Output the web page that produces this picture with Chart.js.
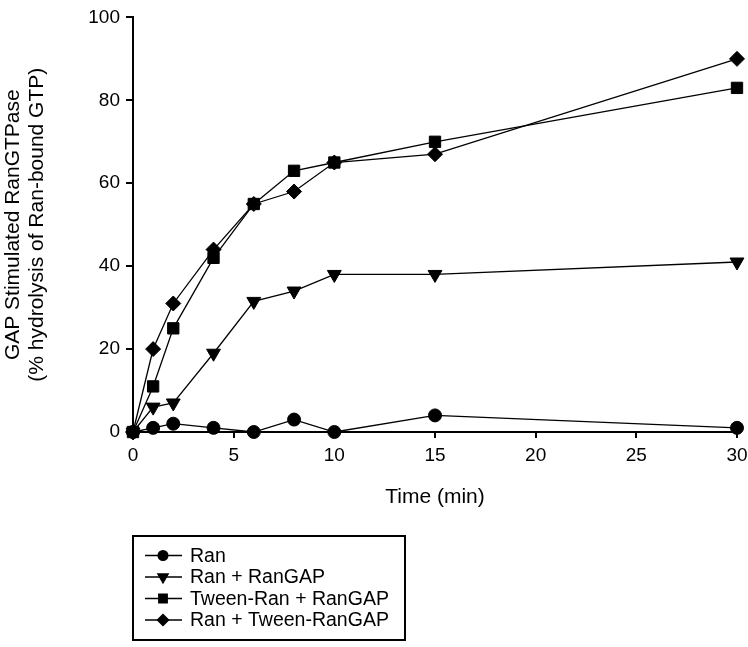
<!DOCTYPE html>
<html>
<head>
<meta charset="utf-8">
<script src="https://cdn.jsdelivr.net/npm/chart.js@4.4.0/dist/chart.umd.min.js"></script>
<style>
  html, body { margin: 0; padding: 0; background: #fff; }
  #wrap { width: 748px; height: 647px; }
</style>
</head>
<body>
<div id="wrap"><canvas id="myChart"></canvas></div>
<script>
// time points (min) and % hydrolysis for each condition
const times = [0, 1, 2, 4, 6, 8, 10, 15, 30];
const ran = [0, 1, 2, 1, 0, 3, 0, 4, 1];
const ranRanGAP = [0, 6, 7, 19, 31.5, 34, 38, 38, 41];
const tweenRanRanGAP = [0, 11, 25, 42, 55, 63, 65, 70, 83];
const ranTweenRanGAP = [0, 20, 31, 44, 55, 58, 65, 67, 90];
const seriesLabels = ['Ran', 'Ran + RanGAP', 'Tween-Ran + RanGAP', 'Ran + Tween-RanGAP'];
const xTicks = [0, 5, 10, 15, 20, 25, 30];
const yTicks = [0, 20, 40, 60, 80, 100];

const FONT = "'Liberation Sans', Arial, sans-serif";

const markers = [
  { style: 'circle', rot: 0, r: 6.5 },
  { style: 'triangle', rot: 180, r: 8 },
  { style: 'rect', rot: 0, r: 8 },
  { style: 'rectRot', rot: 0, r: 7.5 }
];

function makeSet(label, values, i) {
  return {
    label: label,
    data: times.map((t, k) => ({ x: t, y: values[k] })),
    borderColor: '#000',
    backgroundColor: '#000',
    borderWidth: 1.3,
    pointStyle: markers[i].style,
    pointRotation: markers[i].rot,
    pointRadius: markers[i].r,
    pointBorderWidth: 1,
    pointBackgroundColor: '#000',
    pointBorderColor: '#000',
    tension: 0,
    clip: false
  };
}

// boxed legend under the plot, line sample + marker like the original
const boxLegend = {
  id: 'boxLegend',
  afterDraw(chart) {
    const ctx = chart.ctx;
    const left = 133, top = 536, w = 272, h = 104;
    ctx.save();
    ctx.strokeStyle = '#000';
    ctx.fillStyle = '#000';
    ctx.lineWidth = 2;
    ctx.strokeRect(left, top, w, h);
    ctx.font = '19.5px ' + FONT;
    ctx.textBaseline = 'middle';
    chart.data.datasets.forEach((ds, i) => {
      const y = top + 19.5 + i * 21.5;
      ctx.lineWidth = 1.3;
      ctx.beginPath();
      ctx.moveTo(left + 12, y);
      ctx.lineTo(left + 49, y);
      ctx.stroke();
      Chart.helpers.drawPoint(ctx, {
        pointStyle: ds.pointStyle, rotation: ds.pointRotation,
        radius: ds.pointRadius * 0.75, borderWidth: 1
      }, left + 30, y);
      ctx.fillText(ds.label, left + 57, y + 1);
    });
    ctx.restore();
  }
};

new Chart(document.getElementById('myChart'), {
  type: 'line',
  data: {
    datasets: [
      makeSet(seriesLabels[0], ran, 0),
      makeSet(seriesLabels[1], ranRanGAP, 1),
      makeSet(seriesLabels[2], tweenRanRanGAP, 2),
      makeSet(seriesLabels[3], ranTweenRanGAP, 3)
    ]
  },
  options: {
    responsive: true,
    maintainAspectRatio: false,
    animation: false,
    layout: { padding: { left: 0, top: 12, right: 11, bottom: 138 } },
    plugins: { legend: { display: false }, tooltip: { enabled: false } },
    scales: {
      x: {
        type: 'linear',
        min: 0, max: 30,
        afterBuildTicks: s => { s.ticks = xTicks.map(v => ({ value: v })); },
        afterFit: s => { s.height = 77; s.paddingRight = 0; s.paddingLeft = 0; },
        border: { color: '#000', width: 2 },
        grid: { drawOnChartArea: false, drawTicks: true, tickLength: 6, lineWidth: 2, color: '#000' },
        ticks: { color: '#000', font: { family: FONT, size: 19 }, padding: 6, maxRotation: 0 },
        title: { display: true, text: 'Time (min)', color: '#000', font: { family: FONT, size: 21, lineHeight: 1.1 }, padding: { top: 0, bottom: 0 } }
      },
      y: {
        min: 0, max: 100,
        afterBuildTicks: s => { s.ticks = yTicks.map(v => ({ value: v })); },
        afterFit: s => { s.width = 133; },
        border: { color: '#000', width: 2 },
        grid: { drawOnChartArea: false, drawTicks: true, tickLength: 7, lineWidth: 2, color: '#000' },
        ticks: { color: '#000', font: { family: FONT, size: 19 }, padding: 6 },
        title: {
          display: true,
          text: ['GAP Stimulated RanGTPase', '(% hydrolysis of Ran-bound GTP)'],
          color: '#000',
          font: { family: FONT, size: 21, lineHeight: 1.14 },
          padding: { top: 1, bottom: 0 }
        }
      }
    }
  },
  plugins: [boxLegend]
});
</script>
</body>
</html>
